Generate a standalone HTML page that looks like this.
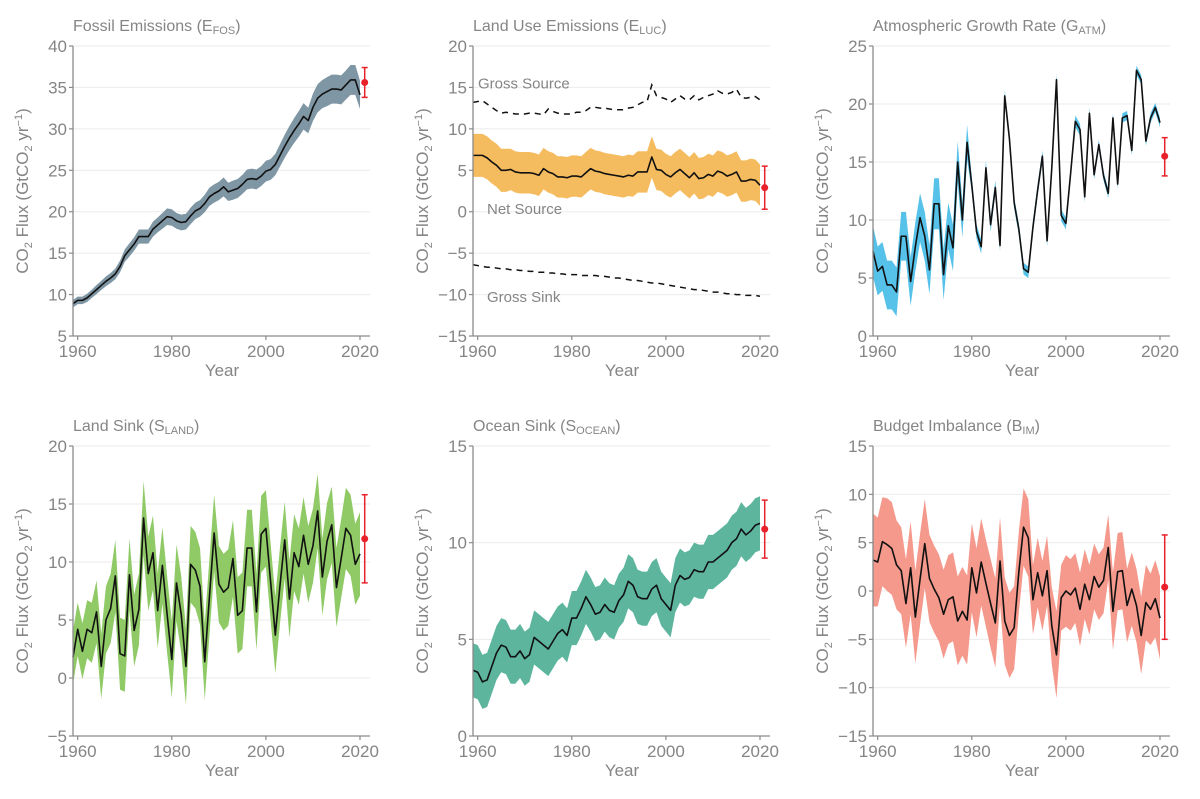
<!DOCTYPE html>
<html><head><meta charset="utf-8"><style>
html,body{margin:0;padding:0;background:#fff;}
svg{display:block;font-family:"Liberation Sans",Arial,sans-serif;}
</style></head><body>
<svg id="chart" width="1200" height="799" viewBox="0 0 1200 799"></svg>
<script>
const years = [];
for (let y = 1959; y <= 2020; y++) years.push(y);

const fosVals = [8.9, 9.3,9.3,9.6,10.1,10.6,11.1,11.6,12.0,12.5,13.4, 14.7,15.4,16.1,17.0,17.0,17.0,17.9,18.4,18.9,19.4, 19.3,18.9,18.7,18.8,19.5,20.1,20.4,21.0,21.8,22.2, 22.5,23.0,22.4,22.6,22.8,23.3,23.9,24.0,23.9,24.3, 24.9,25.1,25.7,26.8,27.9,28.9,29.8,30.6,31.5,31.0, 32.6,33.7,34.2,34.5,34.8,34.8,34.7,35.3,35.9,35.9, 34.1];
const fosUnc = [0.45,0.45,0.45,0.5,0.5,0.55,0.55,0.6,0.6,0.65,0.7,0.75,0.8,0.8,0.85,0.85,0.85,0.9,0.9,0.95,1.0,1.0,0.95,0.95,0.95,1.0,1.0,1.0,1.05,1.1,1.1,1.1,1.15,1.1,1.15,1.15,1.15,1.2,1.2,1.2,1.2,1.25,1.25,1.3,1.35,1.4,1.45,1.5,1.55,1.6,1.55,1.65,1.7,1.7,1.75,1.75,1.75,1.75,1.75,1.8,1.8,1.7];
const fosEst = [35.6, 33.8, 37.4];

const lucVals = [6.8, 6.8,6.8,6.5,6.0,5.6,5.0,5.0,5.1,4.8,4.7, 4.7,4.7,4.6,4.4,5.2,4.8,4.6,4.2,4.2,4.1, 4.3,4.3,4.2,4.7,5.2,4.9,4.8,4.6,4.5,4.4, 4.3,4.2,4.4,4.3,4.8,4.8,4.8,6.6,5.1,5.0, 4.5,4.2,4.7,5.1,4.6,4.1,4.7,4.0,4.1,4.5, 4.3,4.9,4.7,4.3,4.5,4.8,3.7,3.7,3.9,3.8, 3.2];
const lucUnc = [2.6,2.6,2.6,2.6,2.6,2.6,2.6,2.6,2.5,2.5,2.5,2.5,2.5,2.5,2.5,2.5,2.5,2.5,2.5,2.5,2.5,2.5,2.5,2.5,2.5,2.5,2.5,2.5,2.5,2.5,2.5,2.5,2.5,2.5,2.5,2.5,2.5,2.5,2.5,2.5,2.5,2.5,2.5,2.5,2.5,2.5,2.5,2.5,2.5,2.5,2.5,2.5,2.5,2.5,2.5,2.5,2.5,2.5,2.5,2.5,2.5,2.5];
const lucGrossSource = [13.2, 13.3,13.4,13.0,12.6,12.2,11.9,12.0,11.9,11.8,11.8, 11.8,11.9,11.9,11.8,11.7,12.4,12.1,11.9,11.8,11.8, 11.8,12.0,12.0,12.2,12.6,12.6,12.5,12.5,12.4,12.3, 12.3,12.3,12.5,12.6,12.9,13.2,13.3,15.3,14.0,13.8, 13.6,13.2,13.6,14.0,13.6,13.5,14.0,13.5,13.8,14.0, 14.2,14.6,14.3,14.2,14.4,14.8,13.8,13.7,13.8,13.9, 13.5];
const lucGrossSink = [-6.4, -6.5,-6.6,-6.7,-6.7,-6.8,-6.9,-6.9,-7.0,-7.0,-7.1, -7.1,-7.2,-7.2,-7.3,-7.3,-7.4,-7.4,-7.5,-7.5,-7.6, -7.6,-7.6,-7.7,-7.7,-7.7,-7.7,-7.8,-7.8,-7.9,-8.0, -8.0,-8.1,-8.2,-8.3,-8.3,-8.4,-8.5,-8.6,-8.6,-8.7, -8.8,-8.9,-9.0,-9.1,-9.2,-9.3,-9.4,-9.4,-9.5,-9.6, -9.7,-9.7,-9.8,-9.9,-9.9,-10.0,-10.0,-10.1,-10.1,-10.1, -10.2];
const lucEst = [2.9, 0.3, 5.5];

const atmVals = [7.3, 5.6,6.0,4.4,4.4,3.8,8.6,8.6,4.7,7.7,10.2, 8.6,5.7,11.4,11.4,5.3,9.5,7.6,15.0,10.0,16.7, 13.0,9.0,7.7,14.5,9.6,12.8,7.8,20.7,17.0,11.5, 9.2,5.8,5.5,9.4,12.6,15.5,8.2,14.5,22.1,10.4, 9.7,14.0,18.5,17.8,12.0,19.2,13.9,16.5,13.8,12.3, 18.8,13.1,18.8,19.0,16.0,22.9,22.1,16.8,18.8,19.7, 18.4];
const atmUnc = [2.2,2.1,2.1,2.1,2.1,2.1,2.1,2.1,2.1,2.1,2.1,2.1,2.1,2.2,2.2,2.2,2.0,2.0,1.8,1.5,1.5,0.6,0.6,0.6,0.6,0.6,0.6,0.5,0.5,0.5,0.5,0.5,0.5,0.5,0.5,0.5,0.5,0.5,0.5,0.5,0.5,0.5,0.5,0.5,0.5,0.5,0.5,0.4,0.4,0.4,0.4,0.4,0.4,0.4,0.4,0.4,0.4,0.4,0.4,0.4,0.4,0.4];
const atmEst = [15.5, 13.8, 17.1];

const landVals = [1.8, 4.2,2.3,4.2,3.9,5.7,1.0,5.0,6.0,8.8,2.1, 1.9,8.9,4.1,5.9,13.8,9.0,10.8,5.8,9.7,5.5, 1.6,8.2,5.5,1.0,9.8,9.3,7.9,1.4,7.0,12.5, 8.1,7.4,7.8,10.3,5.4,5.8,11.2,11.2,5.7,12.4, 12.9,8.3,3.7,8.0,11.9,6.8,10.8,9.6,12.3,9.8, 11.4,14.4,8.7,11.8,13.2,7.8,10.3,12.9,12.3,9.8, 10.7];
const landUnc = [2.3,2.3,2.4,2.5,2.6,2.7,2.8,2.9,3.0,3.1,3.1,3.1,3.1,3.1,3.1,3.2,3.2,3.2,3.2,3.3,3.3,3.3,3.3,3.3,3.3,3.3,3.3,3.3,3.3,3.3,3.3,3.3,3.3,3.3,3.3,3.3,3.3,3.3,3.3,3.3,3.3,3.3,3.3,3.3,3.3,3.3,3.3,3.3,3.3,3.3,3.3,3.2,3.2,3.3,3.3,3.3,3.4,3.4,3.5,3.5,3.5,3.6];
const landEst = [12.0, 8.2, 15.8];

const oceanVals = [3.4, 3.3,2.8,2.9,3.6,4.3,4.7,4.6,4.1,4.1,4.4, 4.0,4.2,5.1,4.9,4.7,4.5,4.9,5.3,5.5,5.2, 6.1,6.1,6.6,7.2,6.8,6.3,6.4,6.8,6.5,6.4, 7.0,7.3,8.0,7.8,7.2,7.1,7.1,7.6,7.8,7.1, 6.8,6.5,7.8,8.3,8.1,8.2,8.6,8.5,8.5,9.0, 9.0,9.2,9.4,9.6,10.0,10.2,10.7,10.4,10.6,10.9, 11.0];
const oceanUnc = [1.4,1.4,1.4,1.4,1.4,1.4,1.4,1.4,1.4,1.4,1.4,1.4,1.4,1.4,1.4,1.4,1.4,1.4,1.4,1.4,1.4,1.4,1.4,1.4,1.4,1.4,1.4,1.4,1.4,1.4,1.4,1.4,1.4,1.4,1.4,1.4,1.4,1.4,1.4,1.4,1.4,1.4,1.4,1.4,1.4,1.4,1.4,1.4,1.4,1.4,1.4,1.4,1.4,1.4,1.4,1.4,1.4,1.4,1.4,1.4,1.4,1.4];
const oceanEst = [10.7, 9.2, 12.2];

const bimVals = [3.2, 3.0,5.1,4.8,4.4,2.7,2.1,-1.3,2.4,-2.7,1.2, 4.9,1.3,0.2,-0.7,-2.4,-0.9,-0.6,-3.1,-2.1,-3.0, 2.4,-0.2,3.0,0.8,-1.3,-3.3,3.1,-3.1,-4.6,-3.8, 2.0,6.6,5.5,-0.9,1.9,-0.5,2.1,-3.6,-6.6,-0.7, 0.0,-0.4,0.3,-1.9,0.7,-0.9,1.5,0.4,1.1,4.5, -2.1,2.0,2.1,-1.5,0.2,-1.5,-4.6,-1.2,-1.9,-0.8, -2.8];
const bimUnc = [4.8,4.6,4.6,4.8,4.8,4.6,4.5,4.6,4.8,4.8,4.7,4.6,4.5,4.5,4.5,4.6,4.6,4.6,4.6,4.6,4.6,4.6,4.6,4.5,4.5,4.6,4.6,4.5,4.5,4.4,4.3,4.2,4.0,4.0,3.6,3.6,3.6,3.6,4.0,4.5,3.4,3.7,3.7,3.6,3.8,3.6,3.6,3.4,3.4,3.4,3.4,4.0,4.0,4.0,3.8,3.8,3.8,4.0,3.9,3.7,4.0,4.3];
const bimEst = [0.4, -5.0, 5.8];

const xTicks = [1960, 1980, 2000, 2020];

const NS = "http://www.w3.org/2000/svg";
const svg = document.getElementById("chart");
function mk(tag, attrs, parent) {
  const e = document.createElementNS(NS, tag);
  for (const k in attrs) e.setAttribute(k, attrs[k]);
  (parent || svg).appendChild(e);
  return e;
}
const TXT = "#858585";

function panel(o) {
  const g = mk("g", {});
  
  
  const L = 73 + o.ox, R = 370 + o.ox, T = 46 + o.oy, B = 336 + o.oy;
  const xs = y => L + (y - 1959) * (287 / 61);
  const ys = v => B - (v - o.min) / (o.max - o.min) * (B - T);
  for (let v = o.min + o.step; v <= o.max; v += o.step) {
    const gl = mk("line", {x1: L, x2: R, y1: ys(v), y2: ys(v), stroke: "#ebebeb", "stroke-width": 1}, g);
    
    
  }
  let up = years.map((y, i) => xs(y) + "," + ys(o.vals[i] + o.unc[i]));
  let dn = years.map((y, i) => xs(y) + "," + ys(o.vals[i] - o.unc[i])).reverse();
  const band = mk("polygon", {points: up.concat(dn).join(" "), fill: o.color, stroke: "none"}, g);
  
  
  const ln = mk("polyline", {points: years.map((y, i) => xs(y) + "," + ys(o.vals[i])).join(" "), fill: "none", stroke: "#111", "stroke-width": 1.6, "stroke-linejoin": "round"}, g);
  
  
  (o.dashed || []).forEach(d => {
    const dl = mk("polyline", {points: years.map((y, i) => xs(y) + "," + ys(d.vals[i])).join(" "), fill: "none", stroke: "#111", "stroke-width": 1.5, "stroke-dasharray": "6,5"}, g);
    
    
  });
  const ex = xs(2021);
  const eg = mk("g", {}, g);
  
  
  mk("line", {x1: ex, x2: ex, y1: ys(o.est[1]), y2: ys(o.est[2]), stroke: "#e8212b", "stroke-width": 1.5}, eg);
  mk("line", {x1: ex - 3, x2: ex + 3, y1: ys(o.est[1]), y2: ys(o.est[1]), stroke: "#e8212b", "stroke-width": 1.5}, eg);
  mk("line", {x1: ex - 3, x2: ex + 3, y1: ys(o.est[2]), y2: ys(o.est[2]), stroke: "#e8212b", "stroke-width": 1.5}, eg);
  mk("circle", {cx: ex, cy: ys(o.est[0]), r: 3.5, fill: "#e8212b"}, eg);
  const ya = mk("line", {x1: L, x2: L, y1: T, y2: B, stroke: "#8a8a8a", "stroke-width": 1.3}, g);
  
  
  const xa = mk("line", {x1: L, x2: R, y1: B, y2: B, stroke: "#8a8a8a", "stroke-width": 1.3}, g);
  
  
  for (let v = o.min; v <= o.max; v += o.step) {
    mk("line", {x1: L - 4, x2: L, y1: ys(v), y2: ys(v), stroke: "#8a8a8a", "stroke-width": 1.2}, g);
    const t = mk("text", {x: L - 6, y: ys(v) + 6, "text-anchor": "end", "font-size": 17, fill: TXT}, g);
    t.textContent = v < 0 ? "\u2212" + (-v) : String(v);
    
    
  }
  xTicks.forEach(y => {
    mk("line", {x1: xs(y), x2: xs(y), y1: B, y2: B + 4, stroke: "#8a8a8a", "stroke-width": 1.2}, g);
    const t = mk("text", {x: xs(y), y: B + 21, "text-anchor": "middle", "font-size": 17, fill: TXT}, g);
    t.textContent = y;
    
    
  });
  const xt = mk("text", {x: 222 + o.ox, y: B + 40, "text-anchor": "middle", "font-size": 17, fill: TXT}, g);
  xt.textContent = "Year";
  
  
  const yt = mk("text", {transform: `translate(${28 + o.ox},${191 + o.oy}) rotate(-90)`, "text-anchor": "middle", "font-size": 17, fill: TXT}, g);
  yt.innerHTML = 'CO<tspan font-size="11" dy="4">2</tspan><tspan dy="-4"> Flux (GtCO</tspan><tspan font-size="11" dy="4">2</tspan><tspan dy="-4"> yr</tspan><tspan font-size="11" dy="-6">−1</tspan><tspan dy="6">)</tspan>';
  
  
  const tt = mk("text", {x: L, y: 31 + o.oy, "font-size": 16, fill: TXT}, g);
  tt.innerHTML = o.title + ' (' + o.sym + '<tspan font-size="11" dy="3">' + o.sub + '</tspan><tspan dy="-3">)</tspan>';
  
  
  (o.labels || []).forEach(l => {
    const t = mk("text", {x: l.x + o.ox, y: ys(l.v) + 5, "font-size": 15, fill: TXT}, g);
    t.textContent = l.text;
    
    
  });
}

panel({name: "fossil-emissions", ox: 0, oy: 0, min: 5, max: 40, step: 5, vals: fosVals, unc: fosUnc, est: fosEst, color: "#7f96a4", title: "Fossil Emissions", sym: "E", sub: "FOS"});
panel({name: "land-use-emissions", ox: 400, oy: 0, min: -15, max: 20, step: 5, vals: lucVals, unc: lucUnc, est: lucEst, color: "#f5bc5f", title: "Land Use Emissions", sym: "E", sub: "LUC",
  dashed: [{name: "gross-source-line", vals: lucGrossSource}, {name: "gross-sink-line", vals: lucGrossSink}],
  labels: [{name: "gross-source-label", text: "Gross Source", x: 78, v: 15.5}, {name: "net-source-label", text: "Net Source", x: 87, v: 0.3}, {name: "gross-sink-label", text: "Gross Sink", x: 87, v: -10.3}]});
panel({name: "atmospheric-growth", ox: 800, oy: 0, min: 0, max: 25, step: 5, vals: atmVals, unc: atmUnc, est: atmEst, color: "#56c1e9", title: "Atmospheric Growth Rate", sym: "G", sub: "ATM"});
panel({name: "land-sink", ox: 0, oy: 400, min: -5, max: 20, step: 5, vals: landVals, unc: landUnc, est: landEst, color: "#8fca66", title: "Land Sink", sym: "S", sub: "LAND"});
panel({name: "ocean-sink", ox: 400, oy: 400, min: 0, max: 15, step: 5, vals: oceanVals, unc: oceanUnc, est: oceanEst, color: "#5db59e", title: "Ocean Sink", sym: "S", sub: "OCEAN"});
panel({name: "budget-imbalance", ox: 800, oy: 400, min: -15, max: 15, step: 5, vals: bimVals, unc: bimUnc, est: bimEst, color: "#f4998c", title: "Budget Imbalance", sym: "B", sub: "IM"});
</script>
</body></html>
